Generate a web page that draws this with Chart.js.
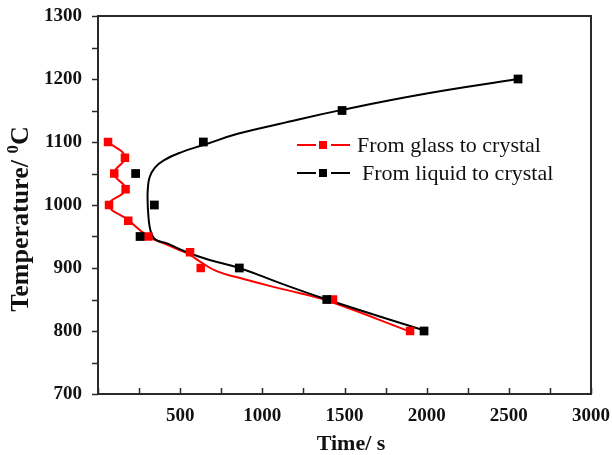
<!DOCTYPE html>
<html>
<head>
<meta charset="utf-8">
<script src="https://cdn.jsdelivr.net/npm/chart.js@4.4.1/dist/chart.umd.min.js"></script>
<style>
  html, body { margin: 0; padding: 0; background: #fff; }
  #wrap { width: 612px; height: 455px; }
</style>
</head>
<body>
<div id="wrap"><canvas id="ttt" width="612" height="455"></canvas></div>
<script>
// measured isothermal points: temperature (C) vs time (s)
const glassTemp = [1100, 1075, 1050, 1025, 1000, 975, 950, 925, 900, 850, 800];
const glassTime = [61, 164, 99, 168, 67, 184, 306, 560, 625, 1430, 1899];
const liquidTemp = [1200, 1150, 1100, 1050, 1000, 950, 900, 850, 800];
const liquidTime = [2556, 1485, 641, 229, 343, 256, 860, 1392, 1984];

// fitted TTT curves
const glassFitTime = [61, 164, 99, 168, 67, 184, 306, 400, 499, 560, 621, 722, 864, 1067, 1229, 1420, 1899];
const glassFitTemp = [1100, 1076, 1050, 1025, 1000, 976, 950, 939, 928, 921, 910, 895, 884, 870, 860, 846, 799];
const liquidFitTime = [2556, 2000, 1485, 1108, 850, 651, 509, 400, 345, 314, 303, 302, 306, 314, 328, 350, 420, 542, 664, 860, 1108, 1392, 1984];
const liquidFitTemp = [1200, 1177, 1151, 1129, 1113, 1096, 1084, 1071, 1059, 1044, 1025, 1005, 985, 966, 953, 945, 939, 925, 914, 900, 876, 850, 801];

const timeTicks = [500, 1000, 1500, 2000, 2500, 3000];
const tempTicks = [700, 800, 900, 1000, 1100, 1200, 1300];

const serif = "'Liberation Serif', 'Times New Roman', serif";

function pairs(xs, ys) {
  return xs.map((x, i) => ({ x: x, y: ys[i] }));
}

// frame, inward/outward tick marks, axis titles and legend
const decorations = {
  id: 'decorations',
  afterDraw(chart) {
    const ctx = chart.ctx;
    const { left, right, top, bottom } = chart.chartArea;
    const xs = chart.scales.x, ys = chart.scales.y;
    ctx.save();
    ctx.strokeStyle = '#2a2a2a';
    ctx.lineWidth = 2;
    ctx.strokeRect(left, top, right - left, bottom - top);

    ctx.lineWidth = 1.5;
    ctx.beginPath();
    ys.ticks.forEach(t => {
      const py = Math.round(ys.getPixelForValue(t.value)) + 0.5;
      ctx.moveTo(left - 6, py);
      ctx.lineTo(left, py);
    });
    xs.ticks.forEach(t => {
      const px = Math.round(xs.getPixelForValue(t.value)) + 0.5;
      ctx.moveTo(px, bottom);
      ctx.lineTo(px, bottom - 6);
    });
    ctx.stroke();

    // axis titles
    ctx.fillStyle = '#111';
    ctx.font = 'bold 22px ' + serif;
    ctx.textAlign = 'center';
    ctx.textBaseline = 'alphabetic';
    ctx.fillText('Time/ s', 351, 450);

    ctx.save();
    ctx.translate(28, 219);
    ctx.rotate(-Math.PI / 2);
    const main = 'Temperature/ ';
    ctx.font = 'bold 26px ' + serif;
    const wMain = ctx.measureText(main).width;
    const wC = ctx.measureText('C').width;
    ctx.font = 'bold 17px ' + serif;
    const wSup = ctx.measureText('0').width;
    const total = wMain + wSup + wC;
    const x0 = -total / 2;
    ctx.textAlign = 'left';
    ctx.font = 'bold 26px ' + serif;
    ctx.fillText(main, x0, 0);
    ctx.font = 'bold 17px ' + serif;
    ctx.fillText('0', x0 + wMain, -10);
    ctx.font = 'bold 26px ' + serif;
    ctx.fillText('C', x0 + wMain + wSup, 0);
    ctx.restore();

    // legend
    const rows = [
      { label: 'From glass to crystal', color: '#ff0000', y: 145, tx: 357 },
      { label: 'From liquid to crystal', color: '#000000', y: 173, tx: 362 }
    ];
    rows.forEach(r => {
      ctx.strokeStyle = r.color;
      ctx.lineWidth = 2;
      ctx.beginPath();
      ctx.moveTo(297, r.y); ctx.lineTo(316, r.y);
      ctx.moveTo(331, r.y); ctx.lineTo(350, r.y);
      ctx.stroke();
      ctx.fillStyle = r.color;
      ctx.fillRect(319, r.y - 4, 8, 8);
      ctx.fillStyle = '#111';
      ctx.font = '22px ' + serif;
      ctx.textAlign = 'left';
      ctx.textBaseline = 'middle';
      ctx.fillText(r.label, r.tx, r.y + 1);
    });
    ctx.restore();
  }
};

// keep the plot box fixed: no extra room for overhanging edge labels
function noOverhang(s) {
  s.paddingLeft = 0;
  s.paddingRight = 0;
  s.paddingTop = 0;
  s.paddingBottom = 0;
}

new Chart(document.getElementById('ttt'), {
  type: 'scatter',
  data: {
    datasets: [
      {
        label: 'From liquid to crystal',
        data: pairs(liquidTime, liquidTemp),
        pointStyle: 'rect',
        pointRadius: 6.2,
        backgroundColor: '#000',
        borderColor: '#000',
        borderWidth: 0,
        order: 0
      },
      {
        label: 'From glass to crystal',
        data: pairs(glassTime, glassTemp),
        pointStyle: 'rect',
        pointRadius: 6,
        backgroundColor: '#ff0000',
        borderColor: '#ff0000',
        borderWidth: 0,
        order: 1
      },
      {
        label: 'liquid fit',
        data: pairs(liquidFitTime, liquidFitTemp),
        showLine: true,
        pointRadius: 0,
        borderColor: '#000',
        borderWidth: 2,
        tension: 0.45,
        order: 2
      },
      {
        label: 'glass fit',
        data: pairs(glassFitTime, glassFitTemp),
        showLine: true,
        pointRadius: 0,
        borderColor: '#ff0000',
        borderWidth: 2,
        tension: 0.45,
        order: 3
      }
    ]
  },
  options: {
    responsive: false,
    devicePixelRatio: 1,
    animation: false,
    layout: { padding: { left: 0, top: 16, right: 21, bottom: 0 } },
    plugins: {
      legend: { display: false },
      tooltip: { enabled: false }
    },
    scales: {
      x: {
        type: 'linear',
        min: 0,
        max: 3000,
        grid: { display: false, drawTicks: false },
        border: { display: false },
        ticks: {
          stepSize: 250,
          padding: 11,
          color: '#111',
          font: { family: serif, size: 19, weight: 'bold' },
          maxRotation: 0,
          autoSkip: false,
          callback: v => (timeTicks.includes(v) ? String(v) : '')
        },
        afterFit: s => { s.height = 61; noOverhang(s); }
      },
      y: {
        type: 'linear',
        min: 700,
        max: 1300,
        grid: { display: false, drawTicks: false },
        border: { display: false },
        ticks: {
          stepSize: 50,
          padding: 16,
          color: '#111',
          font: { family: serif, size: 19, weight: 'bold' },
          autoSkip: false,
          callback: v => (tempTicks.includes(v) ? String(v) : '')
        },
        afterFit: s => { s.width = 98; noOverhang(s); }
      }
    }
  },
  plugins: [decorations]
});
</script>
</body>
</html>
